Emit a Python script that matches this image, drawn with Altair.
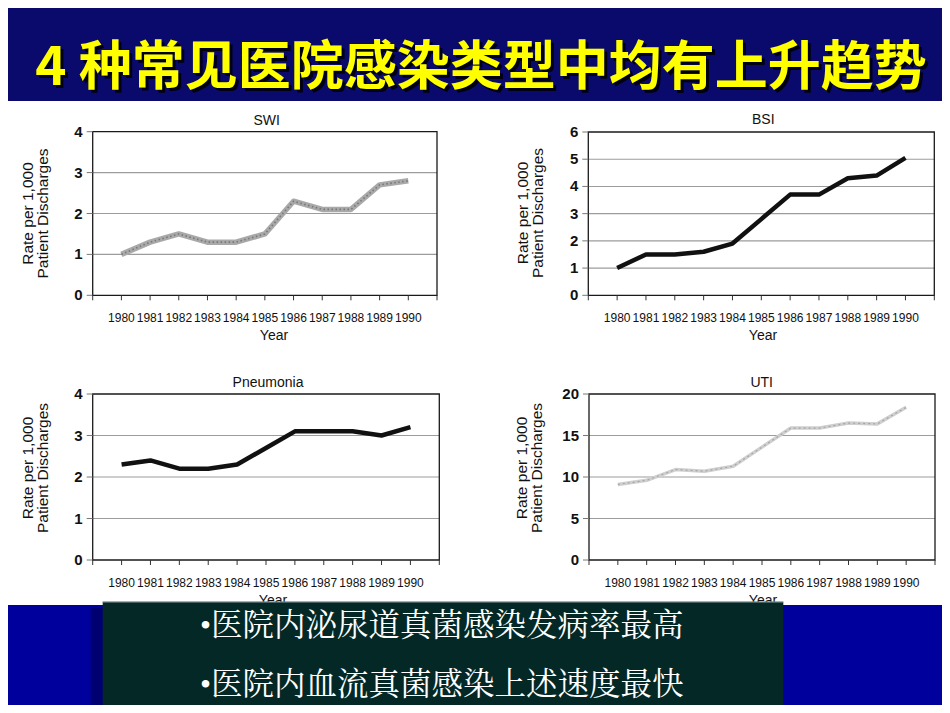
import altair as alt
import pandas as pd

# ---------------- data ----------------
years = list(range(1980, 1991))
swi = [1.0, 1.3, 1.5, 1.3, 1.3, 1.5, 2.3, 2.1, 2.1, 2.7, 2.8]
bsi = [1.0, 1.5, 1.5, 1.6, 1.9, 2.8, 3.7, 3.7, 4.3, 4.4, 5.05]
pneumonia = [2.3, 2.4, 2.2, 2.2, 2.3, 2.7, 3.1, 3.1, 3.1, 3.0, 3.2]
uti = [9.1, 9.6, 10.9, 10.7, 11.3, 13.6, 15.9, 15.9, 16.5, 16.4, 18.4]

panel_titles = ["SWI", "BSI", "Pneumonia", "UTI"]
y_ticks_swi = [0, 1, 2, 3, 4]
y_ticks_bsi = [0, 1, 2, 3, 4, 5, 6]
y_ticks_pneu = [0, 1, 2, 3, 4]
y_ticks_uti = [0, 5, 10, 15, 20]
x_ticks = list(range(1979, 1992))
x_labels = list(range(1980, 1991))
x_domain = [1979, 1991]
y_title_lines = ["Rate per 1,000", "Patient Discharges"]
x_title = "Year"
main_title = "4 种常见医院感染类型中均有上升趋势"
bullets = ["•医院内泌尿道真菌感染发病率最高", "•医院内血流真菌感染上述速度最快"]

# ---------------- layout ----------------
W, H = 934, 697
NAVY_TOP = "#0a0a6c"
NAVY_BOTTOM = "#00009c"
one = pd.DataFrame({"a": [0]})
SANS = "Liberation Sans, Arial, sans-serif"
CJK_SERIF = "Liberation Serif, Noto Serif CJK SC, Noto Sans CJK SC"


def rect(x, x2, y, y2, color):
    return alt.Chart(one).mark_rect(color=color).encode(
        x=alt.value(x), x2=alt.value(x2), y=alt.value(y), y2=alt.value(y2))


def text(t, x, y, **kw):
    return alt.Chart(one).mark_text(**kw).encode(
        x=alt.value(x), y=alt.value(y), text=alt.value(t))


def panel(vals, ymax, yticks, x0, x1, y0, y1, title, tx, ty, ytx, yty, year_x, styles):
    xs = alt.Scale(domain=x_domain, range=[x0, x1], nice=False, zero=False)
    ys = alt.Scale(domain=[0, ymax], range=[y1, y0], nice=False, zero=False)
    df = pd.DataFrame({"year": years, "rate": vals})
    ydf = pd.DataFrame({"v": yticks})
    grid = alt.Chart(pd.DataFrame({"v": yticks[1:-1]})).mark_rule(
        color="#9c9c9c", strokeWidth=1.1).encode(
        y=alt.Y("v:Q", scale=ys, axis=None), x=alt.value(x0), x2=alt.value(x1))
    frame = alt.Chart(one).mark_rect(filled=False, stroke="#1a1a1a", strokeWidth=1.3).encode(
        x=alt.value(x0), x2=alt.value(x1), y=alt.value(y0), y2=alt.value(y1))
    # y ticks and labels
    ytick = alt.Chart(ydf).mark_rule(color="#777", strokeWidth=1).encode(
        y=alt.Y("v:Q", scale=ys, axis=None), x=alt.value(x0 - 6), x2=alt.value(x0))
    ylab = alt.Chart(ydf).mark_text(font=SANS, fontSize=15, fontWeight="bold", color="#111",
                                    align="right", baseline="middle").encode(
        y=alt.Y("v:Q", scale=ys, axis=None), x=alt.value(x0 - 10), text=alt.Text("v:Q"))
    # x ticks and labels
    xtick = alt.Chart(pd.DataFrame({"t": x_ticks})).mark_rule(color="#333", strokeWidth=1).encode(
        x=alt.X("t:Q", scale=xs, axis=None), y=alt.value(y1), y2=alt.value(y1 + 5))
    xlab = alt.Chart(pd.DataFrame({"t": x_labels})).mark_text(
        font=SANS, fontSize=12, color="#111", align="center", baseline="middle").encode(
        x=alt.X("t:Q", scale=xs, axis=None), y=alt.value(y1 + 23),
        text=alt.Text("t:Q", format="d"))
    layers = [grid, frame, ytick, ylab, xtick, xlab]
    for st in styles:
        layers.append(alt.Chart(df).mark_line(**st).encode(
            x=alt.X("year:Q", scale=xs, axis=None),
            y=alt.Y("rate:Q", scale=ys, axis=None)))
    layers.append(text(title, tx, ty, font=SANS, fontSize=14, color="#111",
                       align="center", baseline="middle"))
    layers.append(text(x_title, year_x, y1 + 41, font=SANS, fontSize=14, color="#111",
                       align="center", baseline="middle"))
    layers.append(text(y_title_lines[0], ytx, yty, angle=270, font=SANS, fontSize=15.5,
                       color="#111", align="center", baseline="middle"))
    layers.append(text(y_title_lines[1], ytx + 15, yty, angle=270, font=SANS, fontSize=15.5,
                       color="#111", align="center", baseline="middle"))
    return layers


black_line = [dict(color="#111111", strokeWidth=4.5, strokeJoin="round")]
swi_line = [dict(color="#a9a9a9", strokeWidth=5.5, strokeJoin="round"),
            dict(color="#777777", strokeWidth=1.6, strokeDash=[1.5, 2.5], strokeJoin="round")]
uti_line = [dict(color="#cfcfcf", strokeWidth=3.5, strokeJoin="round"),
            dict(color="#a5a5a5", strokeWidth=1.2, strokeDash=[2, 3], strokeJoin="round")]

layers = []
# backgrounds
layers.append(rect(0, W, 93, 597, "white"))
layers.append(rect(0, W, 597, H, NAVY_BOTTOM))

layers += panel(swi, 4, y_ticks_swi, 84.7, 429, 123.7, 287.3, panel_titles[0],
                258.7, 112.7, 20, 205.5, 266, swi_line)
layers += panel(bsi, 6, y_ticks_bsi, 580.3, 926.3, 124, 287.3, panel_titles[1],
                755.3, 112, 515, 205, 755, black_line)
layers += panel(pneumonia, 4, y_ticks_pneu, 84.7, 431.3, 386, 552, panel_titles[2],
                260, 374.7, 20, 460, 265, black_line)
layers += panel(uti, 20, y_ticks_uti, 581, 927, 386, 552, panel_titles[3],
                753.7, 374.7, 514, 460, 755, uti_line)

# bottom box with shadow
layers.append(rect(82.7, 775.3, 599.7, H, "#000072"))
layers.append(rect(94.7, 775.3, 593.7, 698.7, "#032826"))
layers.append(alt.Chart(one).mark_rule(color="#8a9a98", strokeWidth=1).encode(
    x=alt.value(94.7), x2=alt.value(775.3), y=alt.value(594)))
layers.append(text(bullets[0], 192, 619, font=CJK_SERIF, fontSize=31.5,
                   color="white", align="left", baseline="middle"))
layers.append(text(bullets[1], 192, 678, font=CJK_SERIF, fontSize=31.5,
                   color="white", align="left", baseline="middle"))

# title with shadow
layers.append(text(main_title, 476, 64, font="Noto Sans CJK SC", fontSize=53, fontWeight="bold",
                   color="#000000", opacity=0.85, align="center", baseline="middle"))
layers.append(text(main_title, 473, 61, font="Noto Sans CJK SC", fontSize=53, fontWeight="bold",
                   color="#ffff00", align="center", baseline="middle"))

chart = alt.layer(*layers).resolve_scale(
    x="independent", y="independent").properties(
    width=W, height=H, autosize=alt.AutoSizeParams(type="none"), padding=0,
    background=NAVY_TOP).configure_view(strokeWidth=0)

chart.save("out.html", embed_options={"renderer": "svg", "actions": False})
